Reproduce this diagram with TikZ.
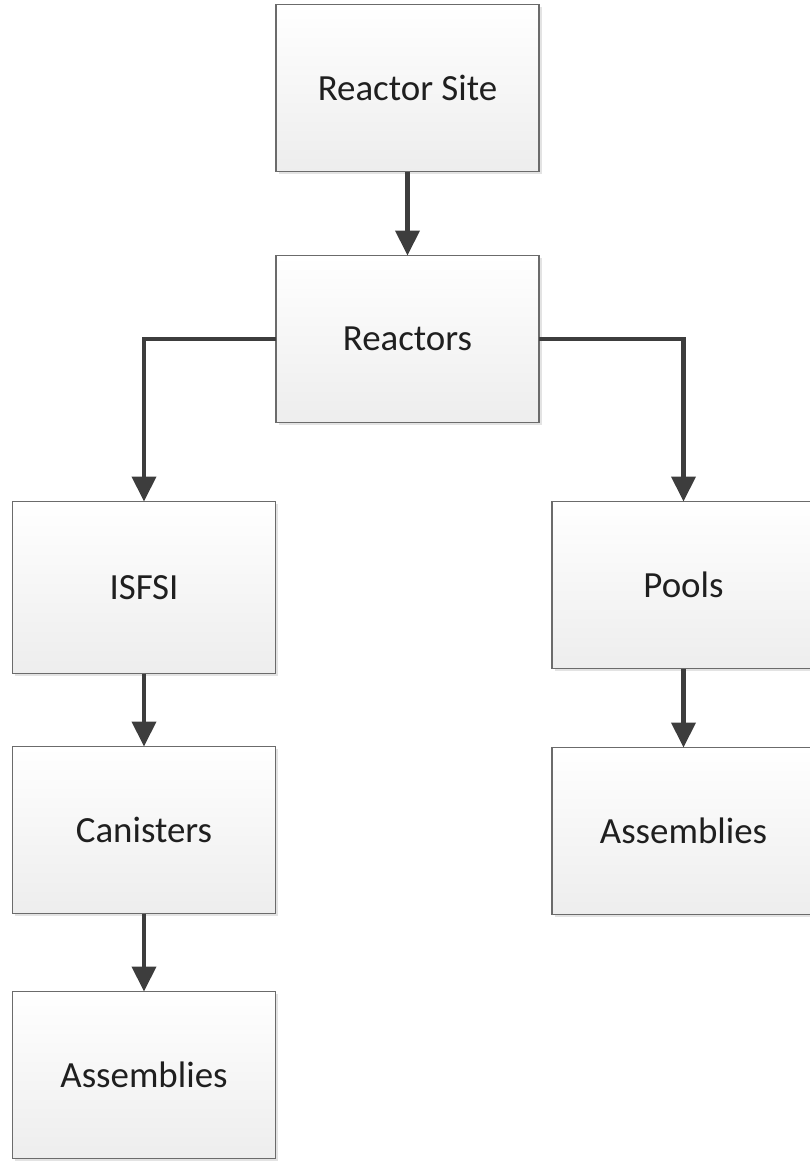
\documentclass[tikz,border=0pt]{standalone}
\usepackage{fontspec}
\setmainfont{Carlito}
\usepackage{tikz}
\usetikzlibrary{arrows.meta, positioning, shadows}

\begin{document}
\begin{tikzpicture}[
      every node/.style = {font=\fontsize{21}{25}\selectfont, text=black!88},
      blk/.style = {
        rectangle,
        minimum width=5.26cm, minimum height=3.34cm,
        inner sep=0pt, outer sep=0pt,
        top color=white, bottom color=black!7,
        draw=black!58, line width=1.1pt,
        drop shadow={shadow xshift=0.05cm, shadow yshift=-0.05cm,
                     fill=black!18, opacity=0.6}
      },
      arr/.style = {-{Triangle[length=0.5cm, width=0.48cm]},
                    line width=2.3pt, black!76},
    ]
    \useasboundingbox (0,0) rectangle (16.2,-23.26);
    \node[blk] (site) at (8.15,-1.76) {Reactor Site};
    \node[blk, below=1.68cm of site] (reactors) {Reactors};
    \node[blk, minimum height=3.44cm, below=1.58cm of reactors, xshift=-5.27cm] (isfsi) {ISFSI};
    \node[blk, below=1.58cm of reactors, xshift=5.52cm] (pools) {Pools};
    \node[blk, below=1.46cm of isfsi] (canisters) {Canisters};
    \node[blk, below=1.56cm of canisters] (asmL) {Assemblies};
    \node[blk, below=1.58cm of pools] (asmR) {Assemblies};
    \draw[arr] (site) -- (reactors);
    \draw[arr] (reactors.west) -| (isfsi.north);
    \draw[arr] (reactors.east) -| (pools.north);
    \draw[arr] (isfsi) -- (canisters);
    \draw[arr] (canisters) -- (asmL);
    \draw[arr] (pools) -- (asmR);
    \end{tikzpicture}
\end{document}
